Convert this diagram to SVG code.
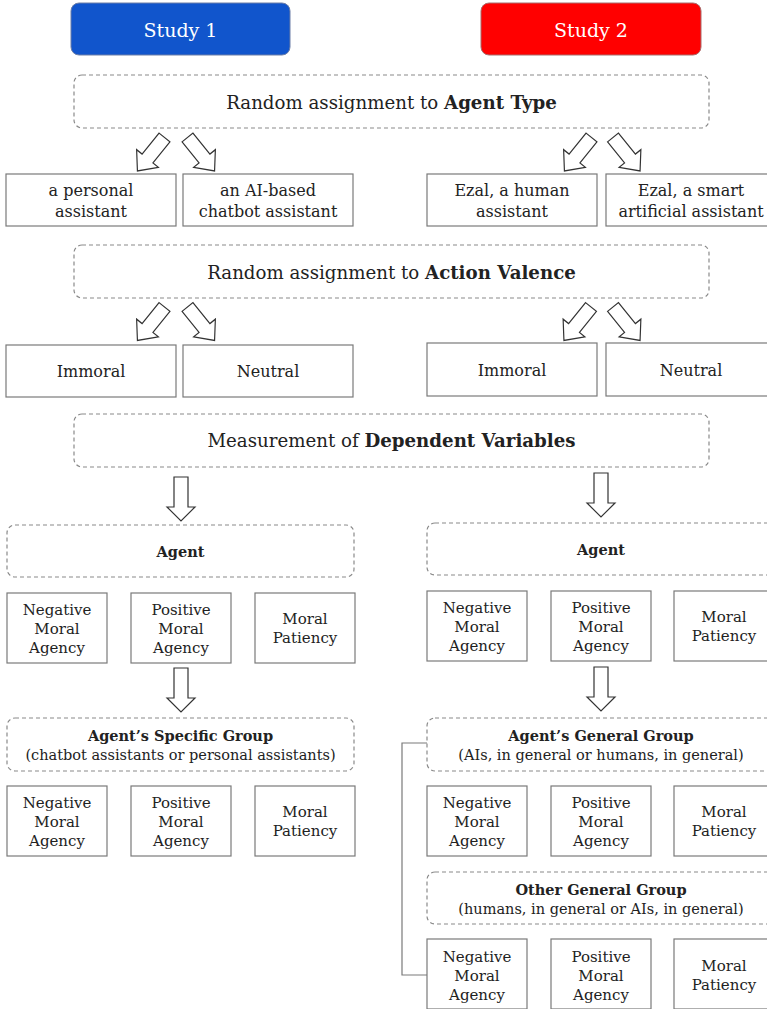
<svg xmlns="http://www.w3.org/2000/svg" xmlns:xlink="http://www.w3.org/1999/xlink" width="767" height="1009" viewBox="0 0 767 1009">
<style>
text{font-family:"DejaVu Serif","Liberation Serif",serif;fill:#222;text-anchor:middle}
.study{fill:#fff;font-size:19px}
.box{fill:#fff;stroke:#7a7a7a;stroke-width:1.2}
.dash{fill:#fff;stroke:#8a8a8a;stroke-width:1.2;stroke-dasharray:4 3}
.arrow{fill:#fff;stroke:#333;stroke-width:1.2;stroke-linejoin:miter}
.big{font-size:18.2px}
.mid{font-size:16px}
.sm{font-size:15px}
.grp{font-size:14.5px}
.b{font-weight:bold}
.line{fill:none;stroke:#7a7a7a;stroke-width:1.2}
</style>
<defs>
<path id="arr" d="M-7,0 L7,0 L7,27 L14,27 L0,43 L-14,27 L-7,27 Z"/>
<path id="darr" d="M-7,0 L7,0 L7,30 L14,30 L0,44 L-14,30 L-7,30 Z"/>
</defs>

<g id="connectors">
<use href="#arr" class="arrow" transform="translate(164.5,137.5) rotate(39)"/>
<use href="#arr" class="arrow" transform="translate(187.5,137.5) rotate(-39)"/>
<use href="#arr" class="arrow" transform="translate(591.5,137.5) rotate(39)"/>
<use href="#arr" class="arrow" transform="translate(613,137.5) rotate(-39)"/>
<use href="#arr" class="arrow" transform="translate(164.5,307) rotate(39)"/>
<use href="#arr" class="arrow" transform="translate(187.5,307) rotate(-39)"/>
<use href="#arr" class="arrow" transform="translate(591,307) rotate(39)"/>
<use href="#arr" class="arrow" transform="translate(613,307) rotate(-39)"/>
<use href="#darr" class="arrow" transform="translate(181,477)"/>
<use href="#darr" class="arrow" transform="translate(601,473)"/>
<use href="#darr" class="arrow" transform="translate(181,668)"/>
<use href="#darr" class="arrow" transform="translate(601,667)"/>
<path class="line" d="M427,743 H402 V975 H427"/>
</g>

<g id="study1"><rect x="71" y="3" width="219" height="52" rx="8" fill="#1155cc" stroke="#6d7fa8" stroke-width="1"/><text class="study" x="180.5" y="37">Study 1</text></g>
<g id="study2"><rect x="481" y="3" width="220" height="52" rx="8" fill="#ff0000" stroke="#a86d6d" stroke-width="1"/><text class="study" x="591" y="37">Study 2</text></g>

<g id="agent-type"><rect class="dash" x="74" y="75" width="635" height="53" rx="8"/><text class="big" x="391.5" y="109">Random assignment to <tspan class="b">Agent Type</tspan></text></g>

<g id="s1-personal"><rect class="box" x="6" y="174" width="170" height="52"/><text class="mid" x="91" y="196">a personal</text><text class="mid" x="91" y="217">assistant</text></g>
<g id="s1-chatbot"><rect class="box" x="183" y="174" width="170" height="52"/><text class="mid" x="268" y="196">an AI-based</text><text class="mid" x="268" y="217">chatbot assistant</text></g>
<g id="s2-human"><rect class="box" x="427" y="174" width="170" height="52"/><text class="mid" x="512" y="196">Ezal, a human</text><text class="mid" x="512" y="217">assistant</text></g>
<g id="s2-smart"><rect class="box" x="606" y="174" width="170" height="52"/><text class="mid" x="691" y="196">Ezal, a smart</text><text class="mid" x="691" y="217">artificial assistant</text></g>

<g id="action-valence"><rect class="dash" x="74" y="245" width="635" height="53" rx="8"/><text class="big" x="391.5" y="279">Random assignment to <tspan class="b">Action Valence</tspan></text></g>

<g id="s1-immoral"><rect class="box" x="6" y="345" width="170" height="52"/><text class="mid" x="91" y="377">Immoral</text></g>
<g id="s1-neutral"><rect class="box" x="183" y="345" width="170" height="52"/><text class="mid" x="268" y="377">Neutral</text></g>
<g id="s2-immoral"><rect class="box" x="427" y="343" width="170" height="53"/><text class="mid" x="512" y="376">Immoral</text></g>
<g id="s2-neutral"><rect class="box" x="606" y="343" width="170" height="53"/><text class="mid" x="691" y="376">Neutral</text></g>

<g id="dependent"><rect class="dash" x="74" y="414" width="635" height="53" rx="8"/><text class="big" x="391.5" y="447">Measurement of <tspan class="b">Dependent Variables</tspan></text></g>

<g id="s1-agent"><rect class="dash" x="7" y="525" width="347" height="52" rx="8"/><text class="grp b" x="180.5" y="557">Agent</text></g>
<g id="s1-a-neg"><rect class="box" x="7" y="593" width="100" height="70"/><text class="sm" x="57" y="615">Negative</text><text class="sm" x="57" y="634">Moral</text><text class="sm" x="57" y="653">Agency</text></g>
<g id="s1-a-pos"><rect class="box" x="131" y="593" width="100" height="70"/><text class="sm" x="181" y="615">Positive</text><text class="sm" x="181" y="634">Moral</text><text class="sm" x="181" y="653">Agency</text></g>
<g id="s1-a-pat"><rect class="box" x="255" y="593" width="100" height="70"/><text class="sm" x="305" y="624">Moral</text><text class="sm" x="305" y="643">Patiency</text></g>

<g id="s1-specific"><rect class="dash" x="7" y="718" width="347" height="53" rx="8"/><text class="grp b" x="180.5" y="741">Agent’s Specific Group</text><text class="grp" x="180.5" y="760">(chatbot assistants or personal assistants)</text></g>
<g id="s1-s-neg"><rect class="box" x="7" y="786" width="100" height="70"/><text class="sm" x="57" y="808">Negative</text><text class="sm" x="57" y="827">Moral</text><text class="sm" x="57" y="846">Agency</text></g>
<g id="s1-s-pos"><rect class="box" x="131" y="786" width="100" height="70"/><text class="sm" x="181" y="808">Positive</text><text class="sm" x="181" y="827">Moral</text><text class="sm" x="181" y="846">Agency</text></g>
<g id="s1-s-pat"><rect class="box" x="255" y="786" width="100" height="70"/><text class="sm" x="305" y="817">Moral</text><text class="sm" x="305" y="836">Patiency</text></g>

<g id="s2-agent"><rect class="dash" x="427" y="523" width="349" height="52" rx="8"/><text class="grp b" x="601" y="555">Agent</text></g>
<g id="s2-a-neg"><rect class="box" x="427" y="591" width="100" height="70"/><text class="sm" x="477" y="613">Negative</text><text class="sm" x="477" y="632">Moral</text><text class="sm" x="477" y="651">Agency</text></g>
<g id="s2-a-pos"><rect class="box" x="551" y="591" width="100" height="70"/><text class="sm" x="601" y="613">Positive</text><text class="sm" x="601" y="632">Moral</text><text class="sm" x="601" y="651">Agency</text></g>
<g id="s2-a-pat"><rect class="box" x="674" y="591" width="100" height="70"/><text class="sm" x="724" y="622">Moral</text><text class="sm" x="724" y="641">Patiency</text></g>

<g id="s2-general"><rect class="dash" x="427" y="718" width="349" height="53" rx="8"/><text class="grp b" x="601" y="741">Agent’s General Group</text><text class="grp" x="601" y="760">(AIs, in general or humans, in general)</text></g>
<g id="s2-g-neg"><rect class="box" x="427" y="786" width="100" height="70"/><text class="sm" x="477" y="808">Negative</text><text class="sm" x="477" y="827">Moral</text><text class="sm" x="477" y="846">Agency</text></g>
<g id="s2-g-pos"><rect class="box" x="551" y="786" width="100" height="70"/><text class="sm" x="601" y="808">Positive</text><text class="sm" x="601" y="827">Moral</text><text class="sm" x="601" y="846">Agency</text></g>
<g id="s2-g-pat"><rect class="box" x="674" y="786" width="100" height="70"/><text class="sm" x="724" y="817">Moral</text><text class="sm" x="724" y="836">Patiency</text></g>

<g id="s2-other"><rect class="dash" x="427" y="872" width="349" height="52" rx="8"/><text class="grp b" x="601" y="895">Other General Group</text><text class="grp" x="601" y="914">(humans, in general or AIs, in general)</text></g>
<g id="s2-o-neg"><rect class="box" x="427" y="939" width="100" height="70"/><text class="sm" x="477" y="962">Negative</text><text class="sm" x="477" y="981">Moral</text><text class="sm" x="477" y="1000">Agency</text></g>
<g id="s2-o-pos"><rect class="box" x="551" y="939" width="100" height="70"/><text class="sm" x="601" y="962">Positive</text><text class="sm" x="601" y="981">Moral</text><text class="sm" x="601" y="1000">Agency</text></g>
<g id="s2-o-pat"><rect class="box" x="674" y="939" width="100" height="70"/><text class="sm" x="724" y="971">Moral</text><text class="sm" x="724" y="990">Patiency</text></g>
</svg>
